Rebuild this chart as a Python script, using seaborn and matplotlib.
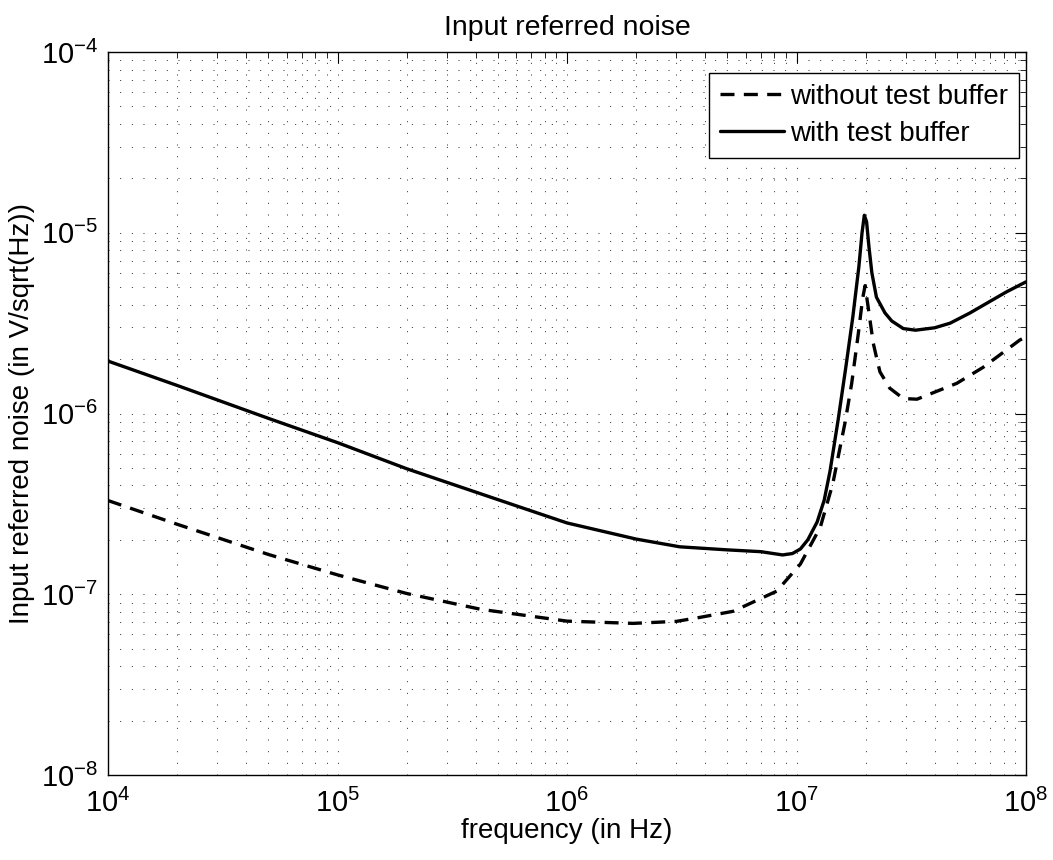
import numpy as np
import pandas as pd
import matplotlib
matplotlib.use("Agg")
import matplotlib.pyplot as plt
import seaborn as sns

# ---- data ----
freq_with = [1e4, 2e4, 5e4, 1e5, 2e5, 5.1e5, 1e6, 2e6, 3.1e6, 5e6, 7e6, 8.7e6, 9.6e6,
             1.04e7, 1.12e7, 1.23e7, 1.32e7, 1.4e7, 1.52e7, 1.64e7, 1.76e7, 1.87e7,
             1.93e7, 1.975e7, 2.02e7, 2.07e7, 2.13e7, 2.23e7, 2.43e7, 2.6e7, 2.92e7,
             3.3e7, 4.0e7, 4.67e7, 5.7e7, 6.76e7, 8.2e7, 1e8]
noise_with = [1.95e-6, 1.43e-6, 9.4e-7, 6.9e-7, 4.95e-7, 3.31e-7, 2.48e-7, 2.02e-7, 1.83e-7,
              1.76e-7, 1.72e-7, 1.65e-7, 1.68e-7, 1.78e-7, 2.0e-7, 2.51e-7, 3.31e-7, 4.8e-7,
              9.3e-7, 1.8e-6, 3.43e-6, 6.5e-6, 1.0e-5, 1.25e-5, 1.15e-5, 8.3e-6, 6.0e-6,
              4.4e-6, 3.6e-6, 3.25e-6, 2.95e-6, 2.89e-6, 2.98e-6, 3.16e-6, 3.6e-6,
              4.08e-6, 4.7e-6, 5.35e-6]

freq_without = [1e4, 2e4, 5e4, 1e5, 2e5, 4.2e5, 1e6, 1.94e6, 3e6, 3.8e6, 5.3e6, 8.2e6,
                1.04e7, 1.27e7, 1.44e7, 1.63e7, 1.74e7, 1.86e7, 1.94e7, 1.99e7, 2.06e7,
                2.16e7, 2.24e7, 2.31e7, 2.55e7, 2.92e7, 3.35e7, 5e7, 6.5e7, 9.4e7, 1e8]
noise_without = [3.3e-7, 2.44e-7, 1.66e-7, 1.28e-7, 1.01e-7, 8.26e-8, 7.1e-8, 6.9e-8,
                 7.08e-8, 7.45e-8, 8.05e-8, 1.04e-7, 1.47e-7, 2.35e-7, 4.1e-7, 9.0e-7,
                 1.47e-6, 2.78e-6, 4.3e-6, 5.1e-6, 3.75e-6, 2.45e-6, 2.0e-6, 1.7e-6,
                 1.38e-6, 1.21e-6, 1.2e-6, 1.47e-6, 1.8e-6, 2.55e-6, 2.65e-6]

labels = ["without test buffer", "with test buffer"]
title = "Input referred noise"
xlabel = "frequency (in Hz)"
ylabel = "Input referred noise (in V/sqrt(Hz))"

# ---- style ----
sns.set_style("white")
plt.rcParams["font.family"] = ["Liberation Sans", "DejaVu Sans"]
plt.rcParams["mathtext.fontset"] = "custom"
plt.rcParams["mathtext.rm"] = "Liberation Sans"
plt.rcParams["mathtext.it"] = "Liberation Sans:italic"
plt.rcParams["axes.unicode_minus"] = True
for k in ["text.color", "axes.labelcolor", "xtick.color", "ytick.color", "axes.edgecolor"]:
    plt.rcParams[k] = "black"

fig = plt.figure(figsize=(10.53, 8.6), dpi=100)
ax = fig.add_axes([108 / 1053, 1 - 775 / 860, 918 / 1053, 723 / 860])

df_wo = pd.DataFrame({"f": freq_without, "v": noise_without})
df_w = pd.DataFrame({"f": freq_with, "v": noise_with})

sns.lineplot(data=df_wo, x="f", y="v", ax=ax, color="black", linewidth=2.4,
             linestyle=(0, (4.2, 2.8)), label=labels[0], estimator=None)
sns.lineplot(data=df_w, x="f", y="v", ax=ax, color="black", linewidth=2.4,
             label=labels[1], estimator=None)

ax.set_xscale("log")
ax.set_yscale("log")
ax.set_xlim(1e4, 1e8)
ax.set_ylim(1e-8, 1e-4)

ax.grid(True, which="both", color="black", linestyle=(0, (1, 11)), linewidth=0.7, alpha=0.85)

for s in ax.spines.values():
    s.set_color("black")
    s.set_linewidth(1.0)

ax.tick_params(which="both", direction="in", top=True, right=True, colors="black")
ax.tick_params(which="major", length=8, width=0.8, labelsize=21)
ax.tick_params(axis="x", which="major", pad=10)
ax.tick_params(axis="y", which="major", pad=7)
ax.tick_params(which="minor", length=4, width=0.6)
ax.xaxis.set_minor_locator(matplotlib.ticker.LogLocator(base=10, subs=np.arange(2, 10), numticks=20))
ax.yaxis.set_minor_locator(matplotlib.ticker.LogLocator(base=10, subs=np.arange(2, 10), numticks=20))
ax.xaxis.set_minor_formatter(matplotlib.ticker.NullFormatter())
ax.yaxis.set_minor_formatter(matplotlib.ticker.NullFormatter())

ax.set_title(title, fontsize=20.5, pad=12)
ax.set_xlabel(xlabel, fontsize=20, labelpad=0)
ax.set_ylabel(ylabel, fontsize=20, labelpad=4)

leg = ax.legend(loc="upper right", bbox_to_anchor=(0.9924, 0.971), borderaxespad=0,
                fontsize=20, frameon=True, fancybox=False, edgecolor="black",
                handlelength=2.3, handletextpad=0.22, labelspacing=0.4,
                borderpad=0.4)
leg.get_frame().set_linewidth(1.0)
leg.get_frame().set_alpha(1.0)

fig.savefig("out.png", dpi=100, facecolor="white")
